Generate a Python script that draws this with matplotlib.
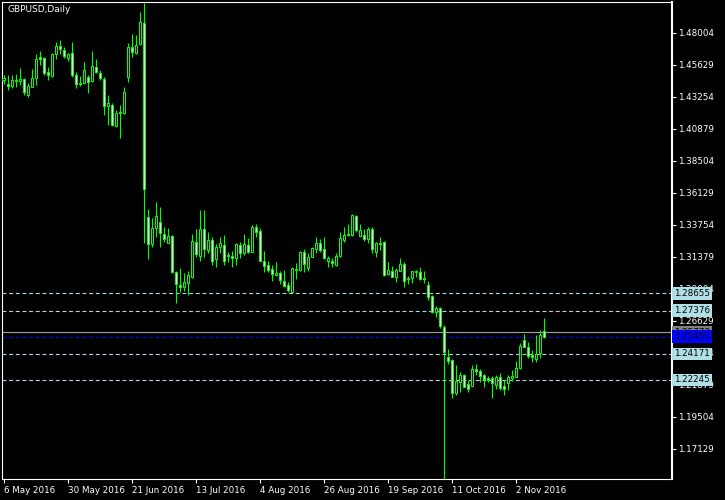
import matplotlib
matplotlib.use('Agg')
import matplotlib.pyplot as plt
import numpy as np

# GBPUSD daily candles, 6 May 2016 .. 11 Nov 2016
opens = [
    1.4449, 1.4420, 1.4405, 1.4442, 1.4442, 1.4457, 1.4338, 1.4398, 1.4464, 1.4620,
    1.4613, 1.4509, 1.4479, 1.4642, 1.4702, 1.4672, 1.4613, 1.4650, 1.4487, 1.4427,
    1.4427, 1.4472, 1.4442, 1.4546, 1.4501, 1.4457, 1.4257, 1.4264, 1.4108, 1.4212,
    1.4205, 1.4472, 1.4694, 1.4650, 1.4717, 1.4872, 1.3433, 1.3233, 1.3351, 1.3396,
    1.3307, 1.3240, 1.3292, 1.3025, 1.2928, 1.2914, 1.2943, 1.2988, 1.3247, 1.3143,
    1.3344, 1.3188, 1.3262, 1.3121, 1.3210, 1.3225, 1.3151, 1.3143, 1.3129, 1.3225,
    1.3166, 1.3225, 1.3173, 1.3359, 1.3329, 1.3106, 1.3077, 1.3047, 1.3003, 1.3017,
    1.2958, 1.2928, 1.2876, 1.3047, 1.3040, 1.3173, 1.3055, 1.3136, 1.3195, 1.3240,
    1.3195, 1.3106, 1.3106, 1.3077, 1.3143, 1.3262, 1.3299, 1.3299, 1.3440, 1.3292,
    1.3299, 1.3270, 1.3344, 1.3173, 1.3240, 1.3247, 1.3010, 1.3032, 1.2988, 1.3032,
    1.3084, 1.2973, 1.2980, 1.3025, 1.3025, 1.2980, 1.2928, 1.2847, 1.2728, 1.2758,
    1.2617, 1.2394, 1.2372, 1.2127, 1.2209, 1.2261, 1.2194, 1.2179, 1.2305, 1.2290,
    1.2261, 1.2238, 1.2238, 1.2186, 1.2246, 1.2179, 1.2201, 1.2238, 1.2246, 1.2312,
    1.2520, 1.2468, 1.2409, 1.2379, 1.2424, 1.2587]
highs = [
    1.4487, 1.4487, 1.4487, 1.4494, 1.4538, 1.4464, 1.4427, 1.4531, 1.4642, 1.4665,
    1.4620, 1.4546, 1.4650, 1.4731, 1.4746, 1.4694, 1.4650, 1.4731, 1.4509, 1.4479,
    1.4583, 1.4487, 1.4665, 1.4605, 1.4524, 1.4472, 1.4338, 1.4279, 1.4227, 1.4264,
    1.4398, 1.4724, 1.4791, 1.4783, 1.4954, 1.5021, 1.3492, 1.3425, 1.3544, 1.3507,
    1.3359, 1.3351, 1.3299, 1.3032, 1.3055, 1.3017, 1.3032, 1.3307, 1.3344, 1.3485,
    1.3485, 1.3322, 1.3285, 1.3233, 1.3285, 1.3299, 1.3173, 1.3181, 1.3240, 1.3247,
    1.3307, 1.3277, 1.3374, 1.3381, 1.3351, 1.3181, 1.3106, 1.3077, 1.3099, 1.3032,
    1.3040, 1.2951, 1.3062, 1.3092, 1.3181, 1.3195, 1.3166, 1.3210, 1.3285, 1.3270,
    1.3285, 1.3143, 1.3129, 1.3166, 1.3322, 1.3359, 1.3381, 1.3455, 1.3448, 1.3381,
    1.3344, 1.3359, 1.3359, 1.3247, 1.3285, 1.3255, 1.3099, 1.3069, 1.3055, 1.3129,
    1.3099, 1.2995, 1.3032, 1.3040, 1.3062, 1.3032, 1.2958, 1.2854, 1.2772, 1.2765,
    1.2632, 1.2453, 1.2379, 1.2335, 1.2283, 1.2268, 1.2223, 1.2335, 1.2342, 1.2305,
    1.2268, 1.2253, 1.2253, 1.2261, 1.2275, 1.2223, 1.2261, 1.2298, 1.2365, 1.2498,
    1.2565, 1.2505, 1.2446, 1.2557, 1.2594, 1.2683]
lows = [
    1.4420, 1.4375, 1.4390, 1.4398, 1.4412, 1.4338, 1.4323, 1.4398, 1.4412, 1.4561,
    1.4487, 1.4449, 1.4472, 1.4605, 1.4642, 1.4613, 1.4590, 1.4472, 1.4390, 1.4405,
    1.4427, 1.4353, 1.4435, 1.4501, 1.4449, 1.4190, 1.4116, 1.4108, 1.4101, 1.4019,
    1.4197, 1.4435, 1.4620, 1.4642, 1.4709, 1.3240, 1.3121, 1.3210, 1.3285, 1.3210,
    1.3247, 1.3240, 1.3017, 1.2795, 1.2876, 1.2884, 1.2854, 1.2980, 1.3136, 1.3106,
    1.3136, 1.3166, 1.3077, 1.3062, 1.3166, 1.3077, 1.3099, 1.3062, 1.3077, 1.3129,
    1.3151, 1.3166, 1.3173, 1.3285, 1.3106, 1.3025, 1.3025, 1.2958, 1.2995, 1.2936,
    1.2914, 1.2876, 1.2876, 1.2973, 1.3032, 1.3025, 1.3032, 1.3136, 1.3166, 1.3173,
    1.3121, 1.3062, 1.3062, 1.3069, 1.3136, 1.3247, 1.3292, 1.3292, 1.3322, 1.3292,
    1.3255, 1.3240, 1.3166, 1.3136, 1.3188, 1.2995, 1.3003, 1.2988, 1.2951, 1.3032,
    1.2914, 1.2936, 1.2943, 1.2988, 1.2965, 1.2943, 1.2817, 1.2721, 1.2691, 1.2609,
    1.1491, 1.2342, 1.2090, 1.2112, 1.2134, 1.2171, 1.2134, 1.2179, 1.2261, 1.2209,
    1.2171, 1.2209, 1.2090, 1.2157, 1.2149, 1.2112, 1.2149, 1.2216, 1.2246, 1.2305,
    1.2468, 1.2387, 1.2357, 1.2357, 1.2387, 1.2535]
closes = [
    1.4464, 1.4405, 1.4449, 1.4449, 1.4457, 1.4360, 1.4405, 1.4464, 1.4605, 1.4605,
    1.4501, 1.4487, 1.4642, 1.4702, 1.4679, 1.4628, 1.4642, 1.4487, 1.4420, 1.4420,
    1.4524, 1.4435, 1.4553, 1.4509, 1.4464, 1.4257, 1.4279, 1.4116, 1.4205, 1.4205,
    1.4360, 1.4694, 1.4657, 1.4709, 1.4880, 1.3641, 1.3233, 1.3351, 1.3440, 1.3314,
    1.3270, 1.3292, 1.3025, 1.2936, 1.2914, 1.2951, 1.3003, 1.3255, 1.3158, 1.3344,
    1.3195, 1.3262, 1.3106, 1.3210, 1.3240, 1.3106, 1.3143, 1.3129, 1.3233, 1.3166,
    1.3233, 1.3173, 1.3359, 1.3322, 1.3106, 1.3069, 1.3040, 1.3010, 1.3017, 1.2965,
    1.2921, 1.2891, 1.3055, 1.3040, 1.3173, 1.3084, 1.3136, 1.3203, 1.3240, 1.3188,
    1.3129, 1.3129, 1.3092, 1.3143, 1.3277, 1.3299, 1.3307, 1.3448, 1.3336, 1.3336,
    1.3270, 1.3344, 1.3195, 1.3240, 1.3233, 1.3003, 1.3040, 1.2988, 1.3040, 1.3084,
    1.2958, 1.2980, 1.3032, 1.3032, 1.2973, 1.2973, 1.2839, 1.2728, 1.2758, 1.2624,
    1.2431, 1.2365, 1.2127, 1.2216, 1.2261, 1.2171, 1.2157, 1.2305, 1.2290, 1.2253,
    1.2231, 1.2223, 1.2201, 1.2246, 1.2164, 1.2157, 1.2246, 1.2253, 1.2312, 1.2476,
    1.2468, 1.2401, 1.2394, 1.2416, 1.2557, 1.2545]

date_labels = ['6 May 2016', '30 May 2016', '21 Jun 2016', '13 Jul 2016', '4 Aug 2016',
               '26 Aug 2016', '19 Sep 2016', '11 Oct 2016', '2 Nov 2016']
date_ticks = [0, 16, 32, 48, 64, 80, 96, 112, 128]
price_ticks = [1.17129, 1.19504, 1.21879, 1.24254, 1.26629, 1.29004, 1.31379,
               1.33754, 1.36129, 1.38504, 1.40879, 1.43254, 1.45629, 1.48004]
levels = [1.28655, 1.27376, 1.24171, 1.22245]
ask_price = 1.25773
bid_price = 1.25450

o = np.array(opens); h = np.array(highs); l = np.array(lows); c = np.array(closes)
x = np.arange(len(o))
print(len(o), len(h), len(l), len(c))

GREEN = '#00ff00'
LBLUE = '#add8e6'

fig = plt.figure(figsize=(7.25, 5.0), dpi=100, facecolor='black')
ax = fig.add_axes([2 / 725, 21 / 500, 670 / 725, 477 / 500])
ax.set_facecolor('black')

# wicks
ax.vlines(x, l, h, color=GREEN, linewidth=0.8, zorder=2)
# bodies: bull = black, bear = white
bull = c >= o
body_bot = np.minimum(o, c)
body_h = np.maximum(np.abs(c - o), 0.0002)
ax.bar(x, body_h, bottom=body_bot, width=0.55,
       color=np.where(bull, 'black', 'white'), edgecolor=GREEN, linewidth=0.75, zorder=3)

# horizontal levels
for lv in levels:
    ax.axhline(lv, color=LBLUE, linewidth=0.8, linestyle=(0, (3.5, 2.5)), zorder=1)
ax.axhline(ask_price, color='#a0a0a0', linewidth=0.8, zorder=1)
ax.axhline(bid_price, color='#0000ff', linewidth=0.8, linestyle=(0, (3.5, 2.5)), zorder=1)

ax.set_xlim(-0.4, 167.1)
ax.set_ylim(1.1489, 1.5028)

# axes frame
for s in ax.spines.values():
    s.set_color('white')
    s.set_linewidth(0.8)
ax.spines['right'].set_linewidth(1.5)

ax.yaxis.tick_right()
ax.set_yticks(price_ticks)
ax.set_yticklabels([f'{p:.5f}' for p in price_ticks])
ax.tick_params(axis='y', colors='white', labelsize=6.3, length=3, width=0.8, pad=1)

ax.set_xticks(date_ticks)
ax.set_xticklabels(date_labels)
for t in ax.get_xticklabels():
    t.set_horizontalalignment('left')
ax.tick_params(axis='x', colors='white', labelsize=6.3, length=3, width=0.8, pad=2)

# price labels on the right scale
ytr = ax.get_yaxis_transform()
for lv in levels:
    ax.text(1.003, lv, f'{lv:.5f}', transform=ytr, ha='left', va='center',
            fontsize=6.3, color='black', clip_on=False, zorder=5,
            bbox=dict(boxstyle='square,pad=0.2', fc='#b0e0e6', ec='none'))
ax.text(1.003, ask_price, f'{ask_price:.5f}', transform=ytr, ha='left', va='center',
        fontsize=6.3, color='black', clip_on=False, zorder=5,
        bbox=dict(boxstyle='square,pad=0.2', fc='#808080', ec='none'))
ax.text(1.003, bid_price, f'{bid_price:.5f}', transform=ytr, ha='left', va='center',
        fontsize=6.3, color='black', clip_on=False, zorder=6,
        bbox=dict(boxstyle='square,pad=0.2', fc='#0000ff', ec='none'))

ax.text(0.008, 0.985, 'GBPUSD,Daily', transform=ax.transAxes, ha='left', va='center',
        fontsize=6.5, color='white')

fig.savefig('out.png', dpi=100, facecolor='black')
